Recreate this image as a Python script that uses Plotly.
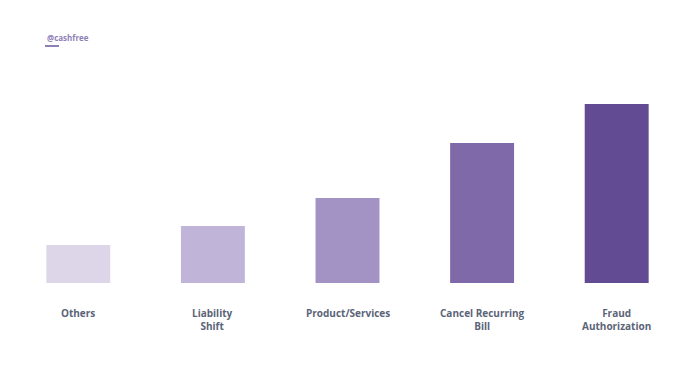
import plotly.graph_objects as go

categories = ["Others", "Liability<br>Shift", "Product/Services", "Cancel Recurring<br>Bill", "Fraud<br>Authorization"]
values = [38, 57, 85, 140, 179]
colors = ["#dcd6e8", "#c0b5d8", "#a393c4", "#8069a8", "#634b94"]

x_idx = list(range(len(categories)))

# page has an 8px body offset; figure coords = page coords - 8
L, R, T, B = 3, 24, 75, 91
W, H = 700, 366
PW, PH = W - L - R, H - T - B

fig = go.Figure()
fig.add_trace(go.Bar(
    x=x_idx, y=values, marker=dict(color=colors, line=dict(width=0)),
    width=0.475, hoverinfo="skip",
))

for i, c in enumerate(categories):
    fig.add_annotation(x=i, y=0, xref="x", yref="y",
                       text="<b>" + c.replace("<br>", "</b><br><b>") + "</b>",
                       showarrow=False, yanchor="top", yshift=-22, borderpad=0,
                       font=dict(family="Open Sans", size=10, color="#5b6478"),
                       align="center")

fig.add_annotation(x=(45 - 8 - L) / PW, y=(H - B - (38 - 8)) / PH, xref="paper", yref="paper",
                   text="<b>@cashfree</b>",
                   showarrow=False, xanchor="left", yanchor="middle",
                   font=dict(family="Open Sans", size=8, color="#8f7fb6"))
fig.add_shape(type="line", xref="paper", yref="paper",
              x0=(45 - 8 - L) / PW, x1=(59 - 8 - L) / PW,
              y0=(H - B - (46 - 8)) / PH, y1=(H - B - (46 - 8)) / PH,
              line=dict(color="#8f7fb6", width=2))

fig.update_layout(
    width=W, height=H,
    margin=dict(l=L, r=R, t=T, b=B, autoexpand=False),
    paper_bgcolor="white", plot_bgcolor="white",
    showlegend=False,
    xaxis=dict(range=[-0.5, 4.5], showticklabels=False, showgrid=False, zeroline=False, showline=False),
    yaxis=dict(range=[0, 200], showticklabels=False, showgrid=False, zeroline=False, showline=False),
)

fig.write_html("out.html")
